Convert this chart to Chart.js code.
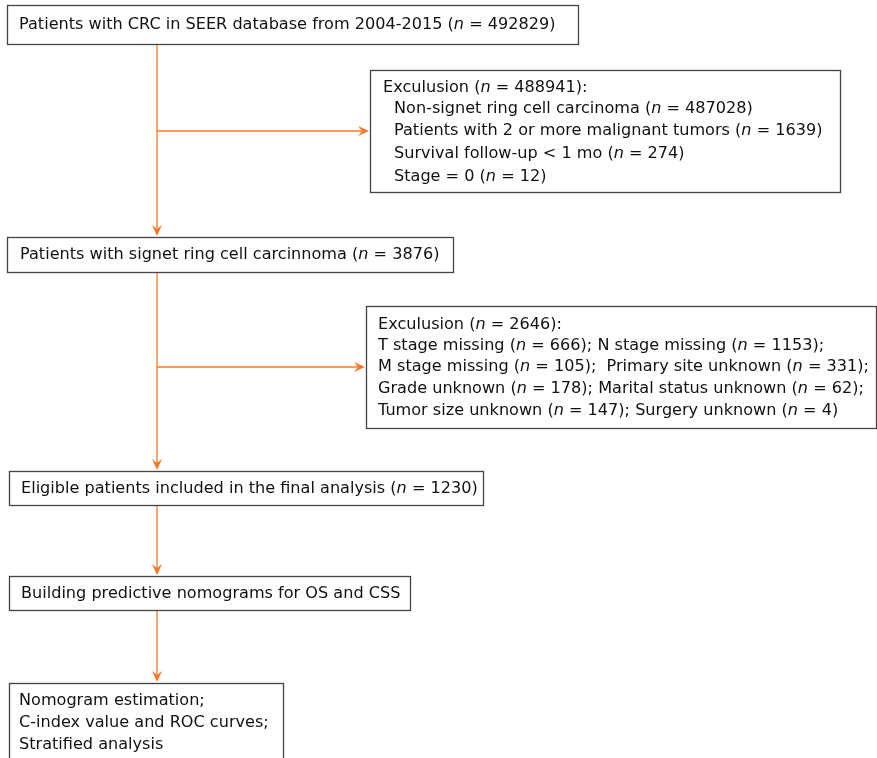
<!DOCTYPE html>
<html>
<head>
<meta charset="utf-8">
<script src="https://cdn.jsdelivr.net/npm/chart.js@4"></script>
<style>
html,body{margin:0;padding:0;background:#fff;}
#wrap{width:877px;height:758px;position:relative;}
</style>
</head>
<body>
<div id="wrap"><canvas id="c"></canvas></div>
<script>
// ---- data ----
const stepLabels = [
  "Patients with CRC in SEER database from 2004-2015",
  "Patients with signet ring cell carcinnoma",
  "Eligible patients included in the final analysis",
  "Building predictive nomograms for OS and CSS"
];
const stepCounts = [492829, 3876, 1230, null];
const finalLines = ["Nomogram estimation;", "C-index value and ROC curves;", "Stratified analysis"];
const exclusion1Total = 488941;
const exclusion1Reasons = ["Non-signet ring cell carcinoma", "Patients with 2 or more malignant tumors", "Survival follow-up < 1 mo", "Stage = 0"];
const exclusion1Counts = [487028, 1639, 274, 12];
const exclusion2Total = 2646;
const exclusion2Reasons = ["T stage missing", "N stage missing", "M stage missing", "Primary site unknown", "Grade unknown", "Marital status unknown", "Tumor size unknown", "Surgery unknown"];
const exclusion2Counts = [666, 1153, 105, 331, 178, 62, 147, 4];

// ---- layout (px in a 877x758 coordinate space) ----
const FONT = '"DejaVu Sans", sans-serif';
const FS = 16.1;
const ORANGE = '#F7782A';
const BORDER = '#444444';
const layout = {
  steps: [
    {x0:7, y0:5, x1:578, y1:44, tx:19},
    {x0:7, y0:237, x1:453, y1:272, tx:20},
    {x0:9, y0:471, x1:483, y1:505, tx:21},
    {x0:9, y0:576, x1:410, y1:610, tx:21}
  ],
  final: {x0:9, y0:683, x1:283, y1:770, tx:19, ty:[701,723,745]},
  ex1: {x0:370, y0:70, x1:840, y1:192, tx:383, indent:394, ty:[88,109,131,154,177]},
  ex2: {x0:366, y0:306, x1:876, y1:428, tx:378, ty:[325,346,367,389,411]},
  spineX: 157,
  branches: [{y:131, x1:370}, {y:367, x1:366}]
};

function countSegs(prefix, n, suffix){
  return [[prefix + " (", false], ["n", true], [" = " + n + ")" + (suffix||""), false]];
}
const exclusion1Lines = [countSegs("Exculusion", exclusion1Total, ":")]
  .concat(exclusion1Reasons.map((r,i)=>countSegs(r, exclusion1Counts[i])));
const exclusion2Lines = [countSegs("Exculusion", exclusion2Total, ":")];
for (let i=0;i<exclusion2Reasons.length;i+=2){
  const a = countSegs(exclusion2Reasons[i], exclusion2Counts[i], ";");
  const last = i+2 >= exclusion2Reasons.length;
  const sep = (i===2) ? "  " : " ";
  a[a.length-1][0] += sep;
  const b = countSegs(exclusion2Reasons[i+1], exclusion2Counts[i+1], last ? "" : ";");
  exclusion2Lines.push(a.concat(b));
}

const flowPlugin = {
  id:'flow',
  afterDraw(chart){
    const ctx = chart.ctx, sx = chart.scales.x, sy = chart.scales.y;
    const X = v=>sx.getPixelForValue(v), Y = v=>sy.getPixelForValue(v);
    function box(b){
      ctx.save();
      ctx.strokeStyle = BORDER; ctx.lineWidth = 1.3;
      ctx.strokeRect(Math.round(X(b.x0))+0.5, Math.round(Y(b.y0))+0.5, X(b.x1)-X(b.x0), Y(b.y1)-Y(b.y0));
      ctx.restore();
    }
    function segs(list, x, y){
      ctx.save();
      ctx.fillStyle = '#111'; ctx.textBaseline = 'middle'; ctx.textAlign='left';
      let cx = X(x);
      for (const [t, it] of list){
        ctx.font = (it ? 'italic ' : '') + FS + 'px ' + FONT;
        ctx.fillText(t, cx, Y(y));
        cx += ctx.measureText(t).width;
      }
      ctx.restore();
    }
    function arrowHead(x, y, dir){
      ctx.save();
      ctx.fillStyle = ORANGE;
      ctx.translate(X(x), Y(y));
      if (dir==='right') ctx.rotate(-Math.PI/2);
      ctx.beginPath();
      ctx.moveTo(0,0); ctx.lineTo(-5,-11); ctx.lineTo(0,-7); ctx.lineTo(5,-11); ctx.closePath();
      ctx.fill();
      ctx.restore();
    }
    function line(x0,y0,x1,y1){
      ctx.save(); ctx.strokeStyle = ORANGE; ctx.lineWidth = 1.3;
      ctx.beginPath(); ctx.moveTo(X(x0),Y(y0)); ctx.lineTo(X(x1),Y(y1)); ctx.stroke(); ctx.restore();
    }
    const L = layout, sp = L.spineX;
    line(sp, L.steps[0].y1, sp, L.steps[1].y0-3); arrowHead(sp, L.steps[1].y0-1, 'down');
    line(sp, L.steps[1].y1, sp, L.steps[2].y0-3); arrowHead(sp, L.steps[2].y0-1, 'down');
    line(sp, L.steps[2].y1, sp, L.steps[3].y0-3); arrowHead(sp, L.steps[3].y0-1, 'down');
    line(sp, L.steps[3].y1, sp, L.final.y0-3); arrowHead(sp, L.final.y0-1, 'down');
    L.branches.forEach(b=>{ line(sp, b.y, b.x1-3, b.y); arrowHead(b.x1-1, b.y, 'right'); });
    L.steps.forEach((b,i)=>{
      box(b);
      const cy = (b.y0+b.y1)/2 + 0.5;
      if (stepCounts[i]!==null) segs(countSegs(stepLabels[i], stepCounts[i]), b.tx, cy);
      else segs([[stepLabels[i], false]], b.tx, cy);
    });
    box(L.final);
    finalLines.forEach((t,i)=>segs([[t,false]], L.final.tx, L.final.ty[i]));
    box(L.ex1);
    exclusion1Lines.forEach((s,i)=>segs(s, i===0?L.ex1.tx:L.ex1.indent, L.ex1.ty[i]));
    box(L.ex2);
    exclusion2Lines.forEach((s,i)=>segs(s, L.ex2.tx, L.ex2.ty[i]));
  }
};

new Chart(document.getElementById('c'), {
  type:'scatter',
  data:{datasets:[{data:[], pointRadius:0}]},
  options:{
    responsive:true, maintainAspectRatio:false, animation:false,
    layout:{padding:0},
    plugins:{legend:{display:false}, tooltip:{enabled:false}},
    scales:{
      x:{type:'linear', min:0, max:877, display:false},
      y:{type:'linear', min:0, max:758, reverse:true, display:false}
    }
  },
  plugins:[flowPlugin]
});
</script>
</body>
</html>
